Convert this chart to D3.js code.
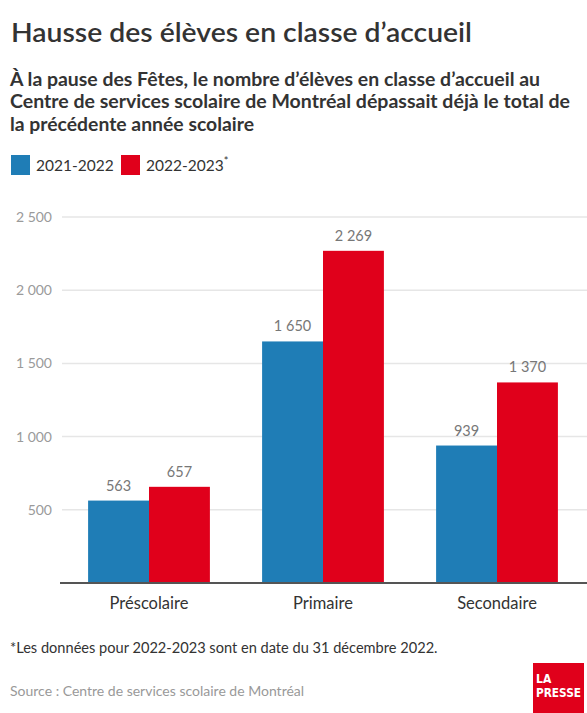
<!DOCTYPE html>
<html>
<head>
<meta charset="utf-8">
<script src="https://cdn.jsdelivr.net/npm/d3@7"></script>
<style>
  body { margin: 0; background: #fff; }
  svg { font-family: Lato, "Noto Sans", sans-serif; }
</style>
</head>
<body>
<div id="chart"></div>
<script>
// data
var categories = ["Préscolaire", "Primaire", "Secondaire"];
var seriesNames = ["2021-2022", "2022-2023"];
var values2122 = [563, 1650, 939];
var values2223 = [657, 2269, 1370];
var yTicks = [500, 1000, 1500, 2000, 2500];
var colors = ["#1f7db6", "#e0001b"];

var width = 587, height = 713;

var svg = d3.select("#chart").append("svg")
  .attr("width", width)
  .attr("height", height);

// numbers with a space as thousands separator
var fmt = function (v) {
  return d3.format(",")(v).replace(/,/g, " ");
};

// title + subtitle
svg.append("text")
  .attr("x", 11).attr("y", 42)
  .attr("font-size", 27.5).attr("font-weight", 600)
  .attr("fill", "#333")
  .attr("textLength", 461).attr("lengthAdjust", "spacingAndGlyphs")
  .text("Hausse des élèves en classe d’accueil");

var subLines = [
  "À la pause des Fêtes, le nombre d’élèves en classe d’accueil au",
  "Centre de services scolaire de Montréal dépassait déjà le total de",
  "la précédente année scolaire"
];
var subWidths = [530, 560, 244];
svg.append("g").selectAll("text")
  .data(subLines)
  .enter().append("text")
  .attr("x", 10)
  .attr("y", function (d, i) { return 86 + i * 22.3; })
  .attr("font-size", 19.5).attr("font-weight", 700)
  .attr("fill", "#333")
  .attr("textLength", function (d, i) { return subWidths[i]; })
  .attr("lengthAdjust", "spacingAndGlyphs")
  .text(function (d) { return d; });

// legend
var legend = svg.append("g");
var legendX = [11, 121];
seriesNames.forEach(function (name, i) {
  legend.append("rect")
    .attr("x", legendX[i]).attr("y", 155)
    .attr("width", 19).attr("height", 20)
    .attr("fill", colors[i]);
  var t = legend.append("text")
    .attr("x", legendX[i] + 25).attr("y", 171)
    .attr("font-size", 15.5).attr("fill", "#333")
    .text(name);
  if (i == 1) {
    t.append("tspan").attr("dy", -6).attr("font-size", 11).text("*");
  }
});

// scales
var x0 = d3.scaleBand()
  .domain(categories)
  .range([62, 584])
  .paddingInner(0.3)
  .paddingOuter(0.15);

var x1 = d3.scaleBand()
  .domain(seriesNames)
  .range([0, x0.bandwidth()]);

var y = d3.scaleLinear()
  .domain([0, 2500])
  .range([583, 217]);

// gridlines
svg.append("g").selectAll("line")
  .data(yTicks)
  .enter().append("line")
  .attr("x1", 62).attr("x2", 587)
  .attr("y1", function (d) { return y(d); })
  .attr("y2", function (d) { return y(d); })
  .attr("stroke", "#e6e6e6").attr("stroke-width", 1.5);

// y axis labels
var yAxis = d3.axisLeft(y).tickValues(yTicks).tickSize(0).tickPadding(0).tickFormat(fmt);
var yg = svg.append("g")
  .attr("transform", "translate(52,0)")
  .call(yAxis);
yg.select(".domain").remove();
yg.selectAll("text")
  .attr("font-family", "Lato, 'Noto Sans', sans-serif")
  .attr("font-size", 14).attr("fill", "#9a9a9a");

// bars
var rows = categories.map(function (c, i) {
  return { cat: c, vals: [values2122[i], values2223[i]] };
});

var groups = svg.append("g").selectAll("g")
  .data(rows)
  .enter().append("g")
  .attr("transform", function (d) { return "translate(" + x0(d.cat) + ",0)"; });

groups.selectAll("rect")
  .data(function (d) {
    return d.vals.map(function (v, j) { return { s: seriesNames[j], v: v, j: j }; });
  })
  .enter().append("rect")
  .attr("x", function (d) { return x1(d.s); })
  .attr("y", function (d) { return y(d.v); })
  .attr("width", x1.bandwidth())
  .attr("height", function (d) { return y(0) - y(d.v); })
  .attr("fill", function (d) { return colors[d.j]; });

groups.selectAll("text.val")
  .data(function (d) {
    return d.vals.map(function (v, j) { return { s: seriesNames[j], v: v }; });
  })
  .enter().append("text")
  .attr("class", "val")
  .attr("x", function (d) { return x1(d.s) + x1.bandwidth() / 2; })
  .attr("y", function (d) { return y(d.v) - 10; })
  .attr("text-anchor", "middle")
  .attr("font-size", 14.5).attr("fill", "#777")
  .text(function (d) { return fmt(d.v); });

// x axis
var xAxis = d3.axisBottom(x0).tickSize(0).tickPadding(14);
var xg = svg.append("g")
  .attr("transform", "translate(0," + y(0) + ")")
  .call(xAxis);
xg.select(".domain").remove();
xg.selectAll("text")
  .attr("font-family", "Lato, 'Noto Sans', sans-serif")
  .attr("font-size", 16.5).attr("fill", "#333");
svg.append("line")
  .attr("x1", 60).attr("x2", 587)
  .attr("y1", y(0)).attr("y2", y(0))
  .attr("stroke", "#555").attr("stroke-width", 2);

// footnote and source
svg.append("text")
  .attr("x", 10).attr("y", 653)
  .attr("font-size", 14.6).attr("fill", "#333")
  .text("*Les données pour 2022-2023 sont en date du 31 décembre 2022.");

svg.append("text")
  .attr("x", 10).attr("y", 696)
  .attr("font-size", 14).attr("fill", "#999")
  .text("Source : Centre de services scolaire de Montréal");

// logo
var logo = svg.append("g").attr("transform", "translate(533,663)");
logo.append("rect")
  .attr("width", 51).attr("height", 50)
  .attr("fill", "#e0001b");
logo.append("text")
  .attr("x", 3).attr("y", 20)
  .attr("font-size", 12).attr("font-weight", 900).attr("fill", "#fff")
  .attr("font-family", "'DejaVu Sans Condensed', sans-serif")
  .text("LA");
logo.append("text")
  .attr("x", 3).attr("y", 34)
  .attr("font-size", 12).attr("font-weight", 900).attr("fill", "#fff")
  .attr("font-family", "'DejaVu Sans Condensed', sans-serif")
  .attr("textLength", 45).attr("lengthAdjust", "spacingAndGlyphs")
  .text("PRESSE");
</script>
</body>
</html>
